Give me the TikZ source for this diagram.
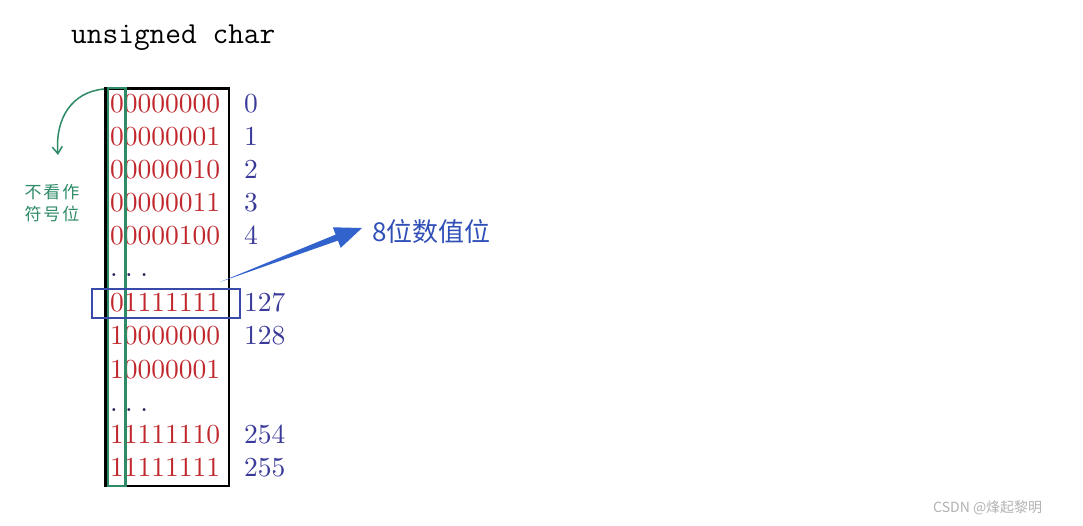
\documentclass[tikz,border=0pt]{standalone}
\usepackage{fontspec}
\newfontfamily\cjk{Noto Sans CJK SC}
\newfontfamily\dig{lmroman10-regular}[Extension=.otf]
\usetikzlibrary{calc,arrows.meta}
\definecolor{bitred}{HTML}{C0282D}
\definecolor{numblue}{HTML}{3A3A9A}
\definecolor{signgreen}{HTML}{2E8B66}
\definecolor{arrowblue}{HTML}{3262CC}
\definecolor{labelblue}{HTML}{3050B8}
\definecolor{rectblue}{HTML}{3A4AA8}
\tikzset{
  bits/.style={anchor=base west, inner sep=0pt, text=bitred, font=\dig\fontsize{27.5}{30}\selectfont},
  num/.style={anchor=base west, inner sep=0pt, text=numblue, font=\dig\fontsize{27.5}{30}\selectfont},
  dots/.style={anchor=base west, inner sep=0pt, text=numblue!60!black, font=\dig\fontsize{27.5}{30}\selectfont},
}
\begin{document}
\begin{tikzpicture}[x=1pt,y=-1pt]
\useasboundingbox[fill=white] (0,0) rectangle (1083,526);
% title
\node[anchor=base west, inner sep=0pt, font=\ttfamily\fontsize{30.5}{32}\selectfont] (title) at (71,44) {unsigned char};
% bit strings
\node[bits] (r0) at (110,113) {00000000};
\node[bits] (r1) at (110,146) {00000001};
\node[bits] (r2) at (110,179) {00000010};
\node[bits] (r3) at (110,212) {00000011};
\node[bits] (r4) at (110,245) {00000100};
\node[dots] (d1) at (110,277) {.\hspace{7.4pt}.\hspace{7.4pt}.};
\node[bits] (r127) at (110,311) {01111111};
\node[bits] (r128) at (110,344) {10000000};
\node[bits] (r129) at (110,378) {10000001};
\node[dots] (d2) at (110,411) {.\hspace{7.4pt}.\hspace{7.4pt}.};
\node[bits] (r254) at (110,443) {11111110};
\node[bits] (r255) at (110,476) {11111111};
% values
\node[num] (n0) at (244,113) {0};
\node[num] (n1) at (244,146) {1};
\node[num] (n2) at (244,179) {2};
\node[num] (n3) at (244,212) {3};
\node[num] (n4) at (244,245) {4};
\node[num] (n127) at (244,311) {127};
\node[num] (n128) at (244,344) {128};
\node[num] (n254) at (244,443) {254};
\node[num] (n255) at (244,476) {255};
% boxes
\draw[line width=2.6pt] (105.5,88.5) rectangle (229,486);
\draw[signgreen, line width=2.2pt] (108,88) rectangle (125.5,486);
\draw[rectblue, line width=2pt] (92,289) rectangle (240,318);
% sign label and curved arrow
\node[inner sep=0pt, text=signgreen, font=\cjk\fontsize{17}{22}\selectfont, align=center] (sign) at (52,203) {不\hspace{2pt}看\hspace{2pt}作\\符\hspace{2pt}号\hspace{2pt}位};
\coordinate (cs) at (104,89);
\coordinate (ce) at (58,155);
\draw[signgreen, line width=1.5pt, -{Straight Barb[length=7pt,width=10pt]}] (cs) .. controls (72,92) and (55,118) .. (ce);
% value-bit label and arrow
\node[anchor=west, inner sep=0pt, text=labelblue, font=\cjk\fontsize{26}{28}\selectfont] (val) at (372,232) {8位数值位};
\coordinate (t0) at (220,282);
\coordinate (t1) at (362,228);
\coordinate (b) at ($(t1)!27pt!(t0)$);
\fill[arrowblue] (t0) -- ($(b)!3.2pt!90:(t1)$) -- ($(b)!11pt!90:(t1)$) -- (t1) -- ($(b)!11pt!-90:(t1)$) -- ($(b)!3.2pt!-90:(t1)$) -- cycle;
% watermark
\node[anchor=west, inner sep=0pt, text=black!30, font=\cjk\fontsize{14}{16}\selectfont] (wm) at (933,508) {CSDN @烽起黎明};
\end{tikzpicture}
\end{document}
